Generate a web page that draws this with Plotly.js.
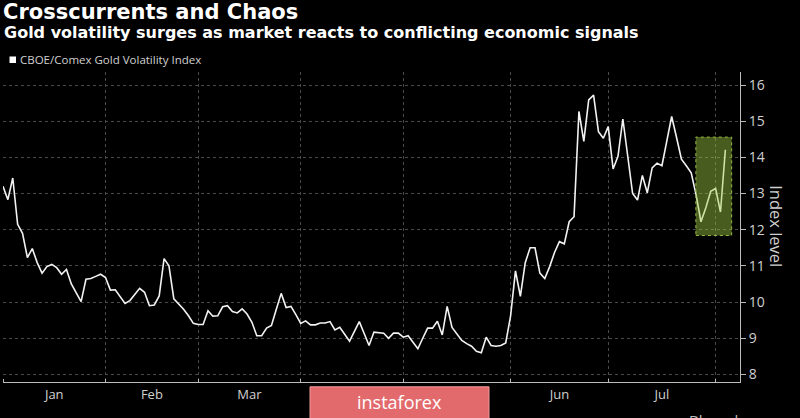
<!DOCTYPE html>
<html><head><meta charset="utf-8">
<script src="https://cdn.plot.ly/plotly-3.0.1.min.js"></script>
<style>html,body{margin:0;padding:0;background:#000;}#chart{width:800px;height:418px;}</style>
</head><body><div id="chart"></div>
<script>
const dates = [
'2019-01-02','2019-01-03','2019-01-04','2019-01-07','2019-01-08','2019-01-09','2019-01-10','2019-01-11','2019-01-14','2019-01-15',
'2019-01-16','2019-01-17','2019-01-18','2019-01-22','2019-01-23','2019-01-24','2019-01-25','2019-01-28','2019-01-29','2019-01-30',
'2019-01-31','2019-02-01','2019-02-04','2019-02-05','2019-02-06','2019-02-07','2019-02-08','2019-02-11','2019-02-12','2019-02-13',
'2019-02-14','2019-02-15','2019-02-19','2019-02-20','2019-02-21','2019-02-22','2019-02-25','2019-02-26','2019-02-27','2019-02-28',
'2019-03-01','2019-03-04','2019-03-05','2019-03-06','2019-03-07','2019-03-08','2019-03-11','2019-03-12','2019-03-13','2019-03-14',
'2019-03-15','2019-03-18','2019-03-19','2019-03-20','2019-03-21','2019-03-22','2019-03-25','2019-03-26','2019-03-27','2019-03-28',
'2019-03-29','2019-04-01','2019-04-02','2019-04-03','2019-04-04','2019-04-05','2019-04-08','2019-04-09','2019-04-10','2019-04-11',
'2019-04-12','2019-04-15','2019-04-16','2019-04-17','2019-04-18','2019-04-22','2019-04-23','2019-04-24','2019-04-25','2019-04-26',
'2019-04-29','2019-04-30','2019-05-01','2019-05-02','2019-05-03','2019-05-06','2019-05-07','2019-05-08','2019-05-09','2019-05-10',
'2019-05-13','2019-05-14','2019-05-15','2019-05-16','2019-05-17','2019-05-20','2019-05-21','2019-05-22','2019-05-23','2019-05-24',
'2019-05-28','2019-05-29','2019-05-30','2019-05-31','2019-06-03','2019-06-04','2019-06-05','2019-06-06','2019-06-07','2019-06-10',
'2019-06-11','2019-06-12','2019-06-13','2019-06-14','2019-06-17','2019-06-18','2019-06-19','2019-06-20','2019-06-21','2019-06-24',
'2019-06-25','2019-06-26','2019-06-27','2019-06-28','2019-07-01','2019-07-02','2019-07-03','2019-07-05','2019-07-08','2019-07-09',
'2019-07-10','2019-07-11','2019-07-12','2019-07-15','2019-07-16','2019-07-17','2019-07-18','2019-07-19','2019-07-22','2019-07-23',
'2019-07-24','2019-07-25','2019-07-26','2019-07-29','2019-07-30','2019-07-31','2019-08-01','2019-08-02','2019-08-05'
];
const gvz = [
13.2,12.83,13.43,12.15,11.9,11.23,11.48,11.09,10.8,10.98,
11.04,10.95,10.77,10.9,10.5,10.26,10.01,10.63,10.65,10.71,
10.77,10.68,10.33,10.34,10.15,9.96,10.04,10.2,10.38,10.27,
9.9,9.92,10.17,11.2,11.0,10.09,9.95,9.8,9.62,9.41,
9.38,9.38,9.76,9.61,9.62,9.87,9.9,9.74,9.7,9.81,
9.67,9.44,9.07,9.07,9.28,9.35,9.8,10.24,9.85,9.88,
9.65,9.41,9.48,9.37,9.37,9.42,9.42,9.46,9.23,9.3,
9.11,8.92,9.19,9.46,9.13,8.8,9.17,9.15,9.14,9.0,
9.14,9.14,9.03,9.07,8.89,8.71,9.0,9.28,9.28,9.47,
9.09,9.88,9.3,9.12,8.94,8.85,8.78,8.64,8.6,9.03,
8.8,8.78,8.8,8.87,9.62,10.86,10.16,11.09,11.5,11.5,
10.8,10.65,10.98,11.37,11.67,11.61,12.22,12.36,15.27,14.44,
15.59,15.72,14.71,14.53,14.85,13.68,14.03,15.06,14.03,13.0,
12.82,13.5,13.02,13.71,13.84,13.77,14.45,15.13,14.55,13.95,
13.77,13.57,12.97,12.22,12.61,13.06,13.14,12.49,14.21
];
// month boundaries (grid + tick marks) and month-label positions (mid-period)
const monthStarts = ['2019-01-02','2019-02-01','2019-03-01','2019-04-01','2019-05-01','2019-06-03','2019-07-01','2019-08-01'];
const monthMids = ['2019-01-16 12:00','2019-02-14 12:00','2019-03-15 12:00','2019-04-15 12:00','2019-05-16','2019-06-17','2019-07-17'];
const monthLabels = ['Jan','Feb','Mar','Apr','May','Jun','Jul'];
const holidays = ['2019-01-01','2019-01-21','2019-02-18','2019-04-19','2019-05-27','2019-07-04'];
const yTicks = [8,9,10,11,12,13,14,15,16];
const highlightX = ['2019-07-25 23:00','2019-08-06 07:00'];
const highlightY = [11.84,14.56];

// pixel helpers for paper-positioned decorations
const L = 3, R = 740, T = 72, B = 381.7;
const px = p => (p - L) / (R - L);
const py = p => (B - p) / (B - T);

const txt = '#d0d0d0';
const font = 'Open Sans, Liberation Sans, sans-serif';
const grid = '#4a4a4a';

const trace = {
  x: dates, y: gvz, type: 'scatter', mode: 'lines',
  name: 'CBOE/Comex Gold Volatility Index',
  line: {color: '#f2f2f2', width: 1.6},
  hoverinfo: 'x+y', showlegend: false
};

const layout = {
  width: 800, height: 418,
  paper_bgcolor: '#000', plot_bgcolor: '#000',
  margin: {l: L, r: 800 - R, t: T, b: 418 - B},
  title: {
    text: '<b>Crosscurrents and Chaos</b>',
    xref: 'container', x: 3/800, xanchor: 'left',
    yref: 'container', y: 1 - 11.5/418, yanchor: 'middle',
    font: {family: 'DejaVu Sans', size: 21, color: '#ffffff'}
  },
  xaxis: {
    type: 'date',
    range: ['2019-01-02', '2019-08-08'],
    rangebreaks: [{bounds: ['sat', 'mon']}, {values: holidays}],
    tickmode: 'array', tickvals: monthMids, ticktext: monthLabels,
    ticks: '', showgrid: false,
    minor: {tickmode: 'array', tickvals: monthStarts, ticks: 'inside', ticklen: 3, tickcolor: '#bbbbbb',
            showgrid: true, gridcolor: grid, griddash: 'dot', gridwidth: 1},
    showline: true, linecolor: '#bbbbbb', linewidth: 1,
    tickfont: {family: font, size: 13, color: txt},
    zeroline: false, fixedrange: true
  },
  yaxis: {
    side: 'right',
    range: [7.79, 16.36],
    tickmode: 'array', tickvals: yTicks, ticktext: yTicks.map(String),
    showgrid: true, gridcolor: grid, griddash: 'dot', gridwidth: 1,
    ticks: 'outside', ticklen: 5, tickcolor: '#bbbbbb',
    showline: true, linecolor: '#bbbbbb', linewidth: 1,
    tickfont: {family: font, size: 14, color: txt},
    zeroline: false, fixedrange: true
  },
  shapes: [
    {type: 'rect', xref: 'x', yref: 'y', layer: 'above',
     x0: highlightX[0], x1: highlightX[1], y0: highlightY[0], y1: highlightY[1],
     fillcolor: 'rgba(160,205,70,0.45)',
     line: {color: 'rgb(150,185,70)', width: 1, dash: 'dot'}},
    {type: 'rect', xref: 'paper', yref: 'paper',
     x0: px(9.5), x1: px(16), y0: py(63), y1: py(56.5),
     fillcolor: '#ffffff', line: {width: 0}},
    {type: 'rect', xref: 'paper', yref: 'paper', layer: 'above',
     x0: px(310), x1: px(489), y0: py(386.5), y1: py(425),
     fillcolor: '#e26a6c', line: {color: '#f29a9a', width: 1}}
  ],
  annotations: [
    {text: '<b>Gold volatility surges as market reacts to conflicting economic signals</b>',
     xref: 'paper', yref: 'paper', x: px(2), y: py(33), xanchor: 'left', yanchor: 'middle',
     showarrow: false, font: {family: 'DejaVu Sans', size: 16, color: '#ffffff'}},
    {text: 'CBOE/Comex Gold Volatility Index',
     xref: 'paper', yref: 'paper', x: px(18), y: py(59.5), xanchor: 'left', yanchor: 'middle',
     showarrow: false, font: {family: font, size: 11.5, color: txt}},
    {text: 'Index level', textangle: 90,
     xref: 'paper', yref: 'paper', x: px(777), y: py(226), xanchor: 'center', yanchor: 'middle',
     showarrow: false, font: {family: font, size: 16.5, color: txt}},
    {text: 'instaforex',
     xref: 'paper', yref: 'paper', x: px(399), y: py(402), xanchor: 'center', yanchor: 'middle',
     showarrow: false, font: {family: font, size: 18, color: '#ffffff'}},
    {text: 'Bloomberg',
     xref: 'paper', yref: 'paper', x: px(687), y: py(408), xanchor: 'left', yanchor: 'top',
     showarrow: false, font: {family: font, size: 15, color: '#bdbdbd'}}
  ]
};

Plotly.newPlot('chart', [trace], layout, {displayModeBar: false, staticPlot: true});
</script>
</body></html>
